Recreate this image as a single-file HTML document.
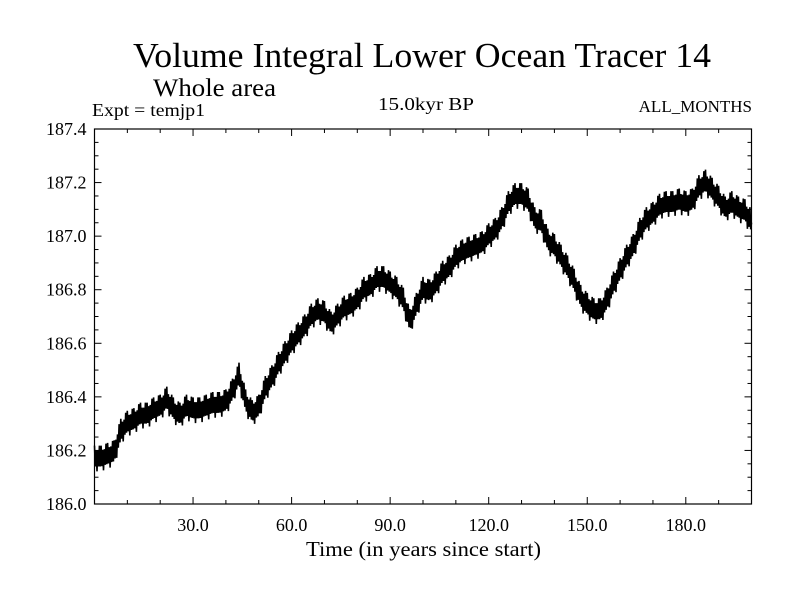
<!DOCTYPE html>
<html><head><meta charset="utf-8"><style>
body{margin:0;background:#fff;}
svg{display:block;font-family:"Liberation Serif",serif;}
</style></head><body>
<svg id="chart" width="800" height="600">
<text x="422" y="67" font-size="35" text-anchor="middle" textLength="578" lengthAdjust="spacingAndGlyphs">Volume Integral Lower Ocean Tracer 14</text>
<text x="153" y="96" font-size="25" textLength="123" lengthAdjust="spacingAndGlyphs">Whole area</text>
<text x="92" y="116" font-size="18" textLength="113" lengthAdjust="spacingAndGlyphs">Expt = temjp1</text>
<text x="378" y="110" font-size="18" textLength="96" lengthAdjust="spacingAndGlyphs">15.0kyr BP</text>
<text x="752" y="112" font-size="17" text-anchor="end">ALL_MONTHS</text>
<text x="306" y="556" font-size="21" textLength="235" lengthAdjust="spacingAndGlyphs">Time (in years since start)</text>
<g id="axes"></g>
<g id="series"></g>
</svg>
<script>
const years = [];
for (let i = 0; i <= 100; i++) years.push(i * 2);
const meanValues = [186.17,186.17,186.18,186.19,186.27,186.30,186.31,186.33,186.33,186.35,186.36,186.39,186.35,186.33,186.36,186.35,186.35,186.36,186.37,186.37,186.38,186.42,186.48,186.38,186.34,186.36,186.43,186.47,186.52,186.56,186.60,186.63,186.66,186.70,186.72,186.71,186.67,186.70,186.73,186.74,186.76,186.80,186.81,186.84,186.84,186.82,186.80,186.76,186.68,186.74,186.80,186.79,186.82,186.86,186.88,186.92,186.94,186.95,186.96,186.97,187.00,187.02,187.06,187.12,187.15,187.15,187.13,187.06,187.05,186.98,186.96,186.92,186.88,186.83,186.77,186.74,186.72,186.72,186.76,186.82,186.87,186.92,186.96,187.02,187.06,187.08,187.11,187.12,187.12,187.13,187.12,187.13,187.18,187.20,187.17,187.14,187.10,187.12,187.10,187.09,187.05];
const noiseSpread = 0.04;
const xTicks = [30, 60, 90, 120, 150, 180];
const xTickLabels = ["30.0","60.0","90.0","120.0","150.0","180.0"];
const yTicks = [186.0,186.2,186.4,186.6,186.8,187.0,187.2,187.4];
const yTickLabels = ["186.0","186.2","186.4","186.6","186.8","187.0","187.2","187.4"];

const L=94.5,R=751.5,T=129,B=504,X0=0,X1=200,Y0=186.0,Y1=187.4;
const xs=v=>L+(v-X0)/(X1-X0)*(R-L);
const ys=v=>B-(v-Y0)/(Y1-Y0)*(B-T);
const NS="http://www.w3.org/2000/svg";
const axes=document.getElementById('axes');
function mk(tag,attrs,parent){const e=document.createElementNS(NS,tag);for(const k in attrs)e.setAttribute(k,attrs[k]);parent.appendChild(e);return e;}

const frame=mk('rect',{x:L,y:T,width:R-L,height:B-T,fill:'none',stroke:'#000','stroke-width':1.2},axes);



for(let v=10;v<200;v+=10){
  const major=v%30===0, len=major?7:4;
  const t1=mk('line',{x1:xs(v),x2:xs(v),y1:B,y2:B-len,stroke:'#000'},axes);
  
  
  const t2=mk('line',{x1:xs(v),x2:xs(v),y1:T,y2:T+len,stroke:'#000'},axes);
  
  
}
xTicks.forEach((v,i)=>{
  const t=mk('text',{x:xs(v),y:B+27,'font-size':18,'text-anchor':'middle'},axes);
  t.textContent=xTickLabels[i];
  
  
});
for(let k=1;k<28;k++){
  const v=Y0+k*0.05, major=k%4===0, len=major?7:4;
  const t1=mk('line',{x1:L,x2:L+len,y1:ys(v),y2:ys(v),stroke:'#000'},axes);
  
  
  const t2=mk('line',{x1:R,x2:R-len,y1:ys(v),y2:ys(v),stroke:'#000'},axes);
  
  
}
yTicks.forEach((v,i)=>{
  const t=mk('text',{x:L-8,y:ys(v)+6,'font-size':18,'text-anchor':'end'},axes);
  t.textContent=yTickLabels[i];
  
  
});

// series: zigzag band around the mean at quarter-year steps
const pts=[];
let sgn=1;
for(let i=0;i<years.length-1;i++){
  for(let s=0;s<8;s++){
    const f=s/8, yr=years[i]+f*(years[i+1]-years[i]);
    const m=meanValues[i]+f*(meanValues[i+1]-meanValues[i]);
    const amp=(s%3===0)?noiseSpread*1.2:noiseSpread*0.75;
    pts.push(xs(yr).toFixed(1)+','+ys(m+sgn*amp).toFixed(1));
    sgn=-sgn;
  }
}
pts.push(xs(years[years.length-1]).toFixed(1)+','+ys(meanValues[meanValues.length-1]).toFixed(1));
const line=mk('polyline',{points:pts.join(' '),fill:'none',stroke:'#000','stroke-width':1.6,'stroke-linejoin':'miter'},document.getElementById('series'));


</script>
</body></html>
